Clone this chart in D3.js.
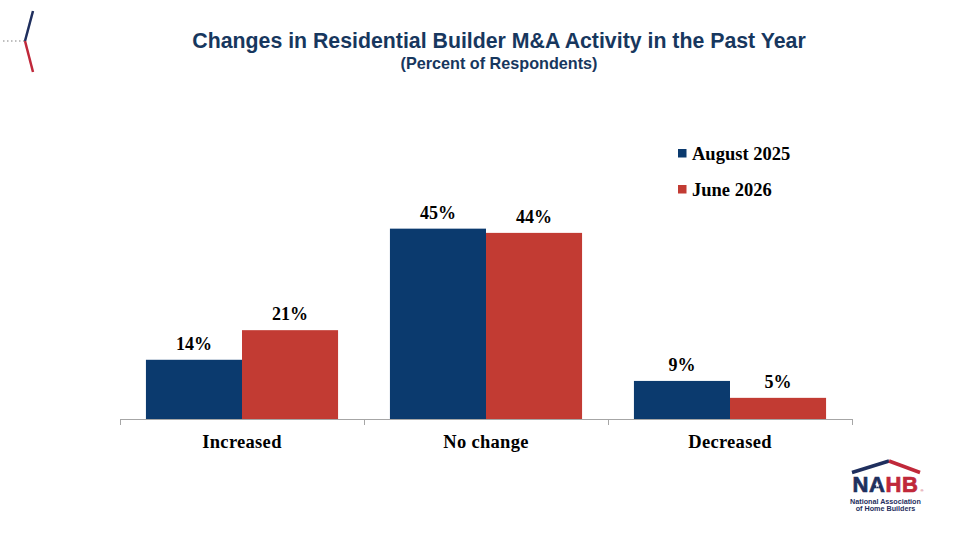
<!DOCTYPE html>
<html><head><meta charset="utf-8">
<script src="https://cdn.jsdelivr.net/npm/d3@7"></script>
<style>body{margin:0;background:#fff}svg{display:block}</style>
</head><body><svg id="c" width="960" height="540"></svg>
<script>
const categories = ["Increased", "No change", "Decreased"];
const seriesNames = ["August 2025", "June 2026"];
const august2025 = [14, 45, 9];
const june2026 = [21, 44, 5];
const seriesColors = ["#0b3a6e", "#c23b33"];

const svg = d3.select("#c");
const left = 120, right = 852, base = 419, topY = 207.5;
const serif = "'Times New Roman', 'Liberation Serif', serif";
const sans = "Arial, 'Liberation Sans', sans-serif";

const x0 = d3.scaleBand().domain(categories).range([left, right]).paddingInner(0).paddingOuter(0);
const x1 = d3.scaleBand().domain(seriesNames).range([0, x0.bandwidth()]).paddingInner(0).paddingOuter(0.27);
const y = d3.scaleLinear().domain([0, 50]).range([base, topY]);

// decoration top-left
svg.append("line").attr("x1", 3).attr("y1", 41).attr("x2", 24).attr("y2", 41)
  .attr("stroke", "#aaa").attr("stroke-width", 1.3).attr("stroke-dasharray", "1.5,2.5");
svg.append("line").attr("x1", 25).attr("y1", 41).attr("x2", 33).attr("y2", 11)
  .attr("stroke", "#1f2f5e").attr("stroke-width", 2.5);
svg.append("line").attr("x1", 25).attr("y1", 41).attr("x2", 33).attr("y2", 72)
  .attr("stroke", "#c0283a").attr("stroke-width", 2.5);

// title
svg.append("text").attr("x", 499).attr("y", 48).attr("text-anchor", "middle")
  .attr("font-family", sans).attr("font-weight", "bold")
  .attr("font-size", 21.3).attr("fill", "#17375e")
  .text("Changes in Residential Builder M&A Activity in the Past Year");
svg.append("text").attr("x", 499).attr("y", 69).attr("text-anchor", "middle")
  .attr("font-family", sans).attr("font-weight", "bold")
  .attr("font-size", 16.2).attr("fill", "#17375e")
  .text("(Percent of Respondents)");

const data = categories.map((c, i) => ({cat: c, vals: [august2025[i], june2026[i]]}));

const g = svg.append("g");
const groups = g.selectAll("g.grp").data(data).join("g")
  .attr("transform", d => `translate(${x0(d.cat)},0)`);
groups.selectAll("rect").data(d => d.vals.map((v, j) => ({s: seriesNames[j], v, j}))).join("rect")
  .attr("x", d => x1(d.s)).attr("width", x1.bandwidth())
  .attr("y", d => y(d.v)).attr("height", d => base - y(d.v))
  .attr("fill", d => seriesColors[d.j]);
groups.selectAll("text.lbl").data(d => d.vals.map((v, j) => ({s: seriesNames[j], v, j}))).join("text")
  .attr("class", "lbl")
  .attr("x", d => x1(d.s) + x1.bandwidth() / 2).attr("y", d => y(d.v) - 10)
  .attr("text-anchor", "middle")
  .attr("font-family", serif).attr("font-weight", "bold")
  .attr("font-size", 18).attr("fill", "#000")
  .text(d => d.v + "%");

// axis
const axis = svg.append("g").attr("transform", `translate(0,${base})`)
  .call(d3.axisBottom(x0).tickSize(0).tickPadding(0));
axis.select(".domain").attr("stroke", "#a6a6a6").attr("d", `M${left},0.5H${right}`);
axis.selectAll(".tick text").attr("font-family", serif)
  .attr("font-weight", "bold").attr("font-size", 18.5).attr("fill", "#000")
  .attr("dy", null).attr("y", 29).attr("letter-spacing", 0.3);
const bounds = [left].concat(categories.map(c => x0(c) + x0.bandwidth()));
axis.selectAll("line.sep").data(bounds).join("line").attr("class", "sep")
  .attr("x1", d => d + 0.5).attr("x2", d => d + 0.5).attr("y1", 0).attr("y2", 6)
  .attr("stroke", "#a6a6a6");

// legend
const leg = svg.append("g");
seriesNames.forEach((s, i) => {
  const yy = 149 + i * 36;
  leg.append("rect").attr("x", 678).attr("y", yy).attr("width", 8.5).attr("height", 8.5).attr("fill", seriesColors[i]);
  leg.append("text").attr("x", 692).attr("y", yy + 11)
    .attr("font-family", serif).attr("font-weight", "bold")
    .attr("font-size", 18.5).attr("fill", "#000").text(s);
});

// logo
const logo = svg.append("g");
logo.append("path").attr("d", "M852,472.5 L889,461").attr("stroke", "#1f2f5e").attr("stroke-width", 3.5).attr("fill", "none");
logo.append("path").attr("d", "M889,461 L920,472.5").attr("stroke", "#c0283a").attr("stroke-width", 3.5).attr("fill", "none");
const nahb = logo.append("text").attr("x", 852.5).attr("y", 492)
  .attr("font-family", sans).attr("font-weight", "bold")
  .attr("font-size", 22).attr("letter-spacing", 0.6)
  .attr("stroke-width", 0.7);
nahb.append("tspan").attr("fill", "#1f2f5e").attr("stroke", "#1f2f5e").text("NA");
nahb.append("tspan").attr("fill", "#c0283a").attr("stroke", "#c0283a").text("HB");
logo.append("path").attr("d", d3.symbol(d3.symbolStar, 8)).attr("transform", "translate(877.5,485.5)").attr("fill", "#fff");
logo.append("text").attr("x", 920.5).attr("y", 492)
  .attr("font-family", sans).attr("font-size", 4).attr("fill", "#c0283a").text("®");
logo.append("text").attr("x", 885.5).attr("y", 503.5).attr("text-anchor", "middle")
  .attr("font-family", sans).attr("font-weight", "bold")
  .attr("font-size", 7.2).attr("fill", "#1f2f5e").text("National Association");
logo.append("text").attr("x", 885.5).attr("y", 511).attr("text-anchor", "middle")
  .attr("font-family", sans).attr("font-weight", "bold")
  .attr("font-size", 7.2).attr("fill", "#1f2f5e").text("of Home Builders");
</script></body></html>
